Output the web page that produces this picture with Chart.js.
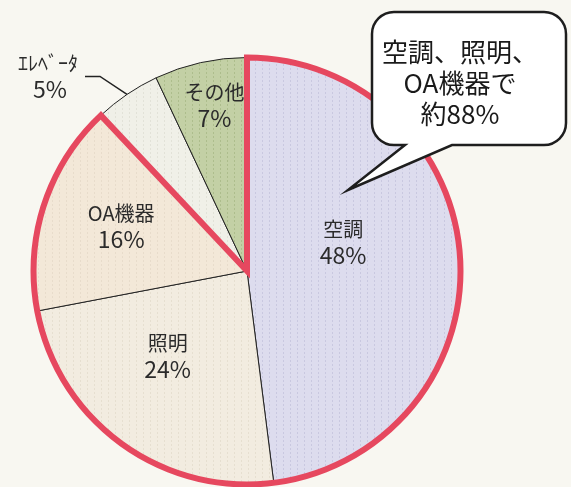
<!DOCTYPE html>
<html lang="ja">
<head>
<meta charset="UTF-8" />
<title>電力消費の内訳</title>
<script src="https://cdn.jsdelivr.net/npm/chart.js"></script>
<style>
  html, body { margin: 0; padding: 0; overflow: hidden; background: #f8f7f1; }
  .chart-box { position: relative; width: 571px; height: 500px; }
</style>
</head>
<body>
<div class="chart-box"><canvas id="pieChart"></canvas></div>
<script>
  const categories = ['空調', '照明', 'OA機器', 'ｴﾚﾍﾞｰﾀ', 'その他'];
  const shares = [48, 24, 16, 5, 7];
  const sliceColors = ['#dddcee', '#f2ece0', '#f3e8d8', '#f0f0e8', '#c3d0a5'];
  const stripeColors = ['#c9c8e0', '#e6dfd0', '#e8dccb', '#e2e2d8', '#adbd8c'];
  const calloutLines = ['空調、照明、', 'OA機器で', '約88%'];
  const highlightCount = 3; // 空調・照明・OA機器 を赤枠で囲む

  // label layout: [radius fraction, angle shift in deg], null = outside label
  const labelPlace = [[0.47, -13], [0.545, 7], [0.625, 1.5], null, [0.79, 1.5]];
  const FONT = '"Noto Sans CJK JP", "Noto Sans", sans-serif';

  // faint vertical screen texture like the printed original
  function stripes(base, line) {
    const c = document.createElement('canvas');
    c.width = 7; c.height = 4;
    const g = c.getContext('2d');
    g.fillStyle = base;
    g.fillRect(0, 0, 7, 4);
    g.fillStyle = line;
    g.fillRect(3, 0, 1, 2);
    return g.createPattern(c, 'repeat');
  }

  function drawLabel(ctx, x, y, name, pct) {
    ctx.fillStyle = '#2b2b2b';
    ctx.textAlign = 'center';
    ctx.textBaseline = 'middle';
    ctx.font = '20px ' + FONT;
    ctx.fillText(name, x, y - 13);
    ctx.font = '23px ' + FONT;
    ctx.fillText(pct, x, y + 13);
  }

  const decorPlugin = {
    id: 'decor',
    afterDatasetsDraw(chart) {
      const ctx = chart.ctx;
      const arcs = chart.getDatasetMeta(0).data;
      const first = arcs[0], last = arcs[highlightCount - 1];

      // red frame round the three big slices
      ctx.save();
      ctx.beginPath();
      ctx.moveTo(first.x, first.y);
      ctx.arc(first.x, first.y, first.outerRadius, first.startAngle, last.endAngle);
      ctx.closePath();
      ctx.lineWidth = 6;
      ctx.strokeStyle = '#e6485f';
      ctx.lineJoin = 'miter';
      ctx.miterLimit = 10;
      ctx.stroke();
      ctx.restore();

      // slice labels
      ctx.save();
      arcs.forEach((a, i) => {
        const mid = (a.startAngle + a.endAngle) / 2;
        const pct = shares[i] + '%';
        if (labelPlace[i]) {
          const [f, shift] = labelPlace[i];
          const ang = mid + shift * Math.PI / 180;
          const r = f * a.outerRadius;
          drawLabel(ctx, a.x + Math.cos(ang) * r, a.y + Math.sin(ang) * r, categories[i], pct);
        } else {
          const ex = a.x + Math.cos(mid) * a.outerRadius;
          const ey = a.y + Math.sin(mid) * a.outerRadius;
          ctx.beginPath();
          ctx.moveTo(ex, ey);
          ctx.lineTo(ex - 27, ey - 18);
          ctx.lineTo(ex - 42, ey - 18);
          ctx.lineWidth = 1.5;
          ctx.strokeStyle = '#222';
          ctx.stroke();
          ctx.fillStyle = '#2b2b2b';
          ctx.textAlign = 'center';
          ctx.textBaseline = 'middle';
          ctx.font = '20px ' + FONT;
          ctx.fillText(categories[i], ex - 79, ey - 31);
          ctx.font = '23px ' + FONT;
          ctx.fillText(pct, ex - 77, ey - 5);
        }
      });
      ctx.restore();

      // speech bubble
      const bx = 372, by = 12, bw = 194, bh = 133, br = 22;
      ctx.save();
      ctx.beginPath();
      ctx.moveTo(bx + br, by);
      ctx.lineTo(bx + bw - br, by);
      ctx.arcTo(bx + bw, by, bx + bw, by + br, br);
      ctx.lineTo(bx + bw, by + bh - br);
      ctx.arcTo(bx + bw, by + bh, bx + bw - br, by + bh, br);
      ctx.lineTo(452, by + bh);
      ctx.lineTo(348, 190);
      ctx.lineTo(405, by + bh);
      ctx.lineTo(bx + br, by + bh);
      ctx.arcTo(bx, by + bh, bx, by + bh - br, br);
      ctx.lineTo(bx, by + br);
      ctx.arcTo(bx, by, bx + br, by, br);
      ctx.closePath();
      ctx.fillStyle = '#ffffff';
      ctx.fill();
      ctx.lineWidth = 2.5;
      ctx.strokeStyle = '#1e1e1e';
      ctx.lineJoin = 'miter';
      ctx.stroke();
      ctx.fillStyle = '#1a1a1a';
      ctx.textAlign = 'center';
      ctx.textBaseline = 'middle';
      ctx.font = '26px ' + FONT;
      calloutLines.forEach((t, i) => ctx.fillText(t, 460, 52 + i * 31));
      ctx.restore();
    }
  };

  new Chart(document.getElementById('pieChart'), {
    type: 'pie',
    data: {
      labels: categories,
      datasets: [{
        data: shares,
        backgroundColor: sliceColors.map((c, i) => stripes(c, stripeColors[i])),
        borderColor: '#222',
        borderWidth: 1
      }]
    },
    options: {
      responsive: true,
      maintainAspectRatio: false,
      animation: false,
      layout: { padding: { left: 33, top: 57, right: 110, bottom: 15 } },
      plugins: { legend: { display: false }, tooltip: { enabled: false } }
    },
    plugins: [decorPlugin]
  });
</script>
</body>
</html>
